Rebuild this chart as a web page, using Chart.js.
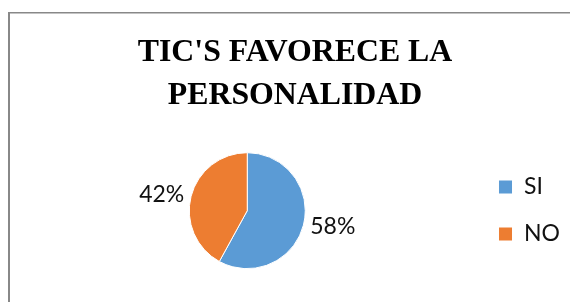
<!DOCTYPE html>
<html>
<head>
<meta charset="utf-8">
<script src="https://cdn.jsdelivr.net/npm/chart.js@4.4.1/dist/chart.umd.min.js"></script>
<style>
  body { margin: 0; background: #fff; }
  #pie { display: block; }
</style>
</head>
<body>
<canvas id="pie" width="570" height="302"></canvas>
<script>
// chart data
const titleLines = ["TIC'S FAVORECE LA", 'PERSONALIDAD'];
const answers = ['SI', 'NO'];
const shares = [58, 42];          // percent of answers
const sliceColors = ['#5B9BD5', '#ED7D31'];

const labelFont = { family: 'Lato', size: 23 };

// grey frame of the chart box (only left and top edges are in view)
const frame = {
  id: 'frame',
  beforeDraw(chart) {
    const ctx = chart.ctx;
    ctx.save();
    ctx.fillStyle = '#888888';
    ctx.fillRect(8, 12, chart.width - 8, 1.5);
    ctx.fillRect(8, 12, 2, chart.height - 12);
    ctx.restore();
  }
};

// draws the "58%" / "42%" labels just outside each slice
const outsideLabels = {
  id: 'outsideLabels',
  afterDatasetsDraw(chart) {
    const ctx = chart.ctx;
    const meta = chart.getDatasetMeta(0);
    const total = shares.reduce((a, b) => a + b, 0);
    ctx.save();
    ctx.font = labelFont.size + 'px ' + labelFont.family;
    ctx.fillStyle = '#111';
    ctx.textBaseline = 'middle';
    meta.data.forEach(function (arc, i) {
      const p = arc.getProps(['x', 'y', 'startAngle', 'endAngle', 'outerRadius'], true);
      const mid = (p.startAngle + p.endAngle) / 2;
      const r = p.outerRadius + 7;
      const tx = p.x + Math.cos(mid) * r;
      const ty = p.y + Math.sin(mid) * r;
      ctx.textAlign = Math.cos(mid) >= 0 ? 'left' : 'right';
      ctx.fillText(Math.round(shares[i] / total * 100) + '%', tx, ty);
    });
    ctx.restore();
  }
};

new Chart(document.getElementById('pie'), {
  type: 'pie',
  data: {
    labels: answers,
    datasets: [{
      data: shares,
      backgroundColor: sliceColors,
      borderColor: '#ffffff',
      borderWidth: 1,
      radius: 58
    }]
  },
  options: {
    responsive: false,
    animation: false,
    layout: { padding: { left: 20, right: 0, top: 0, bottom: 32.5 } },
    plugins: {
      title: {
        display: true,
        text: titleLines,
        color: '#000',
        font: { family: 'Liberation Serif', size: 31.8, weight: 'bold', lineHeight: 1.35 },
        padding: { top: 31, bottom: 35 }
      },
      legend: {
        position: 'right',
        align: 'end',
        labels: {
          boxWidth: 14,
          boxHeight: 14,
          padding: 24,
          color: '#111',
          font: labelFont
        }
      },
      tooltip: { enabled: false }
    }
  },
  plugins: [frame, outsideLabels]
});
</script>
</body>
</html>
